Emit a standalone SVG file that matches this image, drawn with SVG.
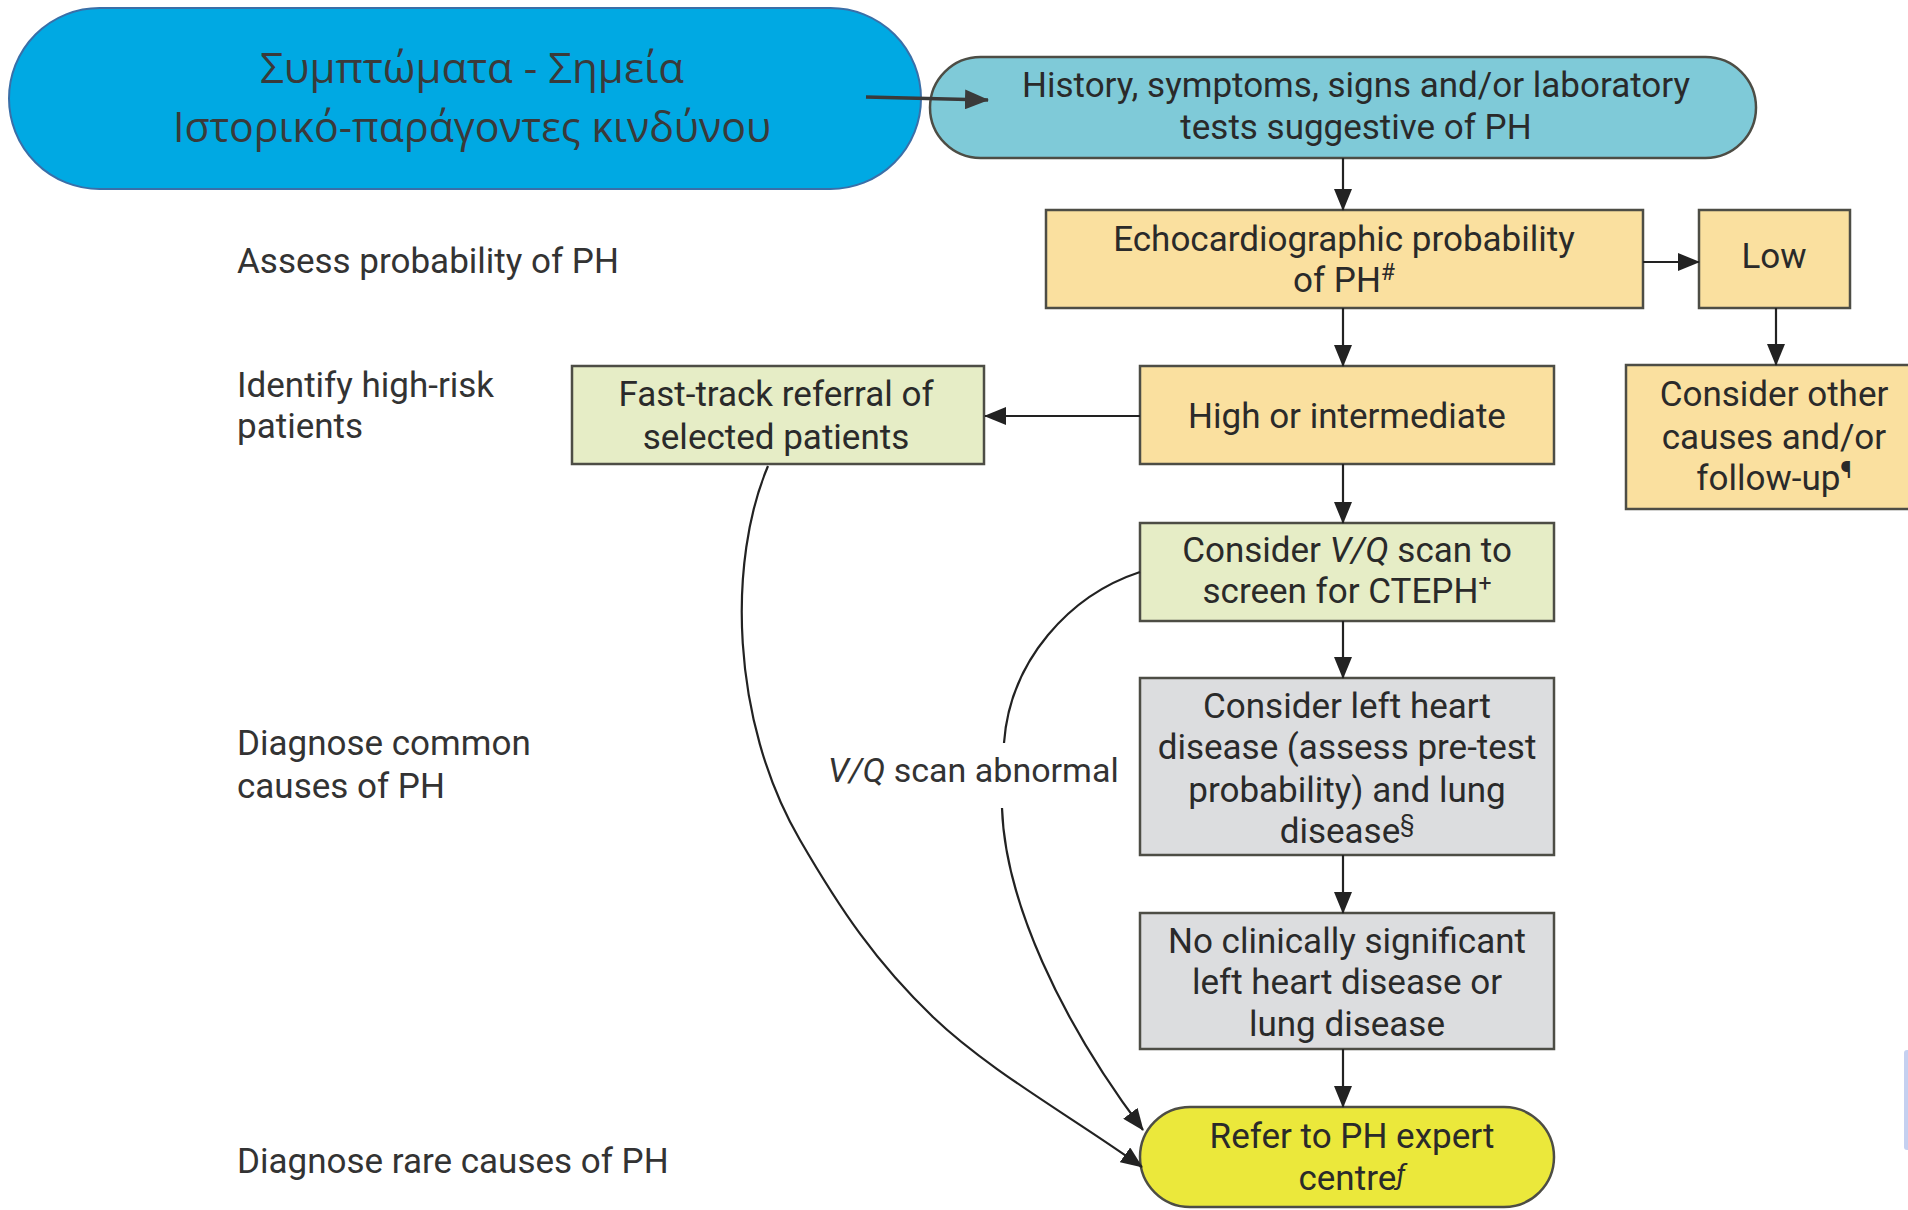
<svg xmlns="http://www.w3.org/2000/svg" width="1908" height="1210" viewBox="0 0 1908 1210">
<defs>
<style>
.t{font-family:Roboto,"Liberation Sans",sans-serif;font-size:35px;fill:#2a2a2a;text-anchor:middle}
.lab{font-family:Roboto,"Liberation Sans",sans-serif;font-size:35px;fill:#333;text-anchor:start}
.vql{font-family:Roboto,"Liberation Sans",sans-serif;font-size:34px;fill:#333;text-anchor:start}
.gr{font-family:"Open Sans","Noto Sans",sans-serif;font-size:42px;fill:#3a3a3a;text-anchor:middle}
.box{stroke:#4d4d45;stroke-width:2.5}
.org{fill:#fae09f}
.grn{fill:#e6edc6}
.gry{fill:#dcdddf}
.con{fill:none;stroke:#222;stroke-width:2.2}
.sup{font-size:23px}
</style>
<marker id="ah" markerWidth="22" markerHeight="18" refX="21" refY="9" orient="auto" markerUnits="userSpaceOnUse"><path d="M0,0 L22,9 L0,18 Z" fill="#222"/></marker>
<marker id="ah2" markerWidth="24" markerHeight="20" refX="23" refY="10" orient="auto" markerUnits="userSpaceOnUse"><path d="M0,0 L24,10 L0,20 Z" fill="#3a3a3a"/></marker>
</defs>
<rect x="0" y="0" width="1908" height="1210" fill="#ffffff"/>

<g id="labels">
<text class="lab" x="237" y="273">Assess probability of PH</text>
<text class="lab" x="237" y="397">Identify high-risk</text>
<text class="lab" x="237" y="438">patients</text>
<text class="lab" x="237" y="755">Diagnose common</text>
<text class="lab" x="237" y="798">causes of PH</text>
<text class="lab" x="237" y="1173">Diagnose rare causes of PH</text>
</g>

<g id="symptoms">
<rect x="9" y="8" width="912" height="181" rx="90.5" fill="#00a9e3" stroke="#3a6fa8" stroke-width="2"/>
<text class="gr" x="472" y="83" textLength="424" lengthAdjust="spacingAndGlyphs">Συμπτώματα - Σημεία</text>
<text class="gr" x="472" y="142" textLength="598" lengthAdjust="spacingAndGlyphs">Ιστορικό-παράγοντες κινδύνου</text>
</g>

<g id="history">
<rect x="930" y="57" width="826" height="101" rx="50.5" fill="#7fcad8" class="box" stroke="#333"/>
<text class="t" x="1356" y="97">History, symptoms, signs and/or laboratory</text>
<text class="t" x="1356" y="139">tests suggestive of PH</text>
</g>

<g id="echo">
<rect x="1046" y="210" width="597" height="98" class="box org"/>
<text class="t" x="1344" y="251">Echocardiographic probability</text>
<text class="t" x="1344" y="292">of PH<tspan class="sup" dy="-12">#</tspan></text>
</g>

<g id="low">
<rect x="1699" y="210" width="151" height="98" class="box org"/>
<text class="t" x="1774" y="268">Low</text>
</g>

<g id="other">
<rect x="1626" y="365" width="296" height="144" class="box org"/>
<text class="t" x="1774" y="406">Consider other</text>
<text class="t" x="1774" y="449">causes and/or</text>
<text class="t" x="1774" y="490">follow-up<tspan class="sup" dy="-12">¶</tspan></text>
</g>

<g id="high">
<rect x="1140" y="366" width="414" height="98" class="box org"/>
<text class="t" x="1347" y="428">High or intermediate</text>
</g>

<g id="fasttrack">
<rect x="572" y="366" width="412" height="98" class="box grn"/>
<text class="t" x="776" y="406">Fast-track referral of</text>
<text class="t" x="776" y="449">selected patients</text>
</g>

<g id="vq">
<rect x="1140" y="523" width="414" height="98" class="box grn"/>
<text class="t" x="1347" y="562">Consider <tspan font-style="italic">V/Q</tspan> scan to</text>
<text class="t" x="1347" y="603">screen for CTEPH<tspan class="sup" dy="-12">+</tspan></text>
</g>

<g id="lhd">
<rect x="1140" y="678" width="414" height="177" class="box gry"/>
<text class="t" x="1347" y="718">Consider left heart</text>
<text class="t" x="1347" y="759">disease (assess pre-test</text>
<text class="t" x="1347" y="802">probability) and lung</text>
<text class="t" x="1347" y="843">disease<tspan class="sup" dy="-12">§</tspan></text>
</g>

<g id="noclin">
<rect x="1140" y="913" width="414" height="136" class="box gry"/>
<text class="t" x="1347" y="953">No clinically significant</text>
<text class="t" x="1347" y="994">left heart disease or</text>
<text class="t" x="1347" y="1036">lung disease</text>
</g>

<g id="refer">
<rect x="1140" y="1107" width="414" height="100" rx="50" fill="#ebe83b" class="box" stroke="#333"/>
<text class="t" x="1352" y="1148">Refer to PH expert</text>
<text class="t" x="1352" y="1190">centre<tspan font-style="italic" font-size="28" dy="-6">ƒ</tspan></text>
</g>

<g id="connectors">
<path d="M866,97 L988,100" fill="none" stroke="#3a3a3a" stroke-width="3.5" marker-end="url(#ah2)"/>
<path class="con" d="M1343,158 L1343,210" marker-end="url(#ah)"/>
<path class="con" d="M1643,262 L1699,262" marker-end="url(#ah)"/>
<path class="con" d="M1776,308 L1776,365" marker-end="url(#ah)"/>
<path class="con" d="M1343,308 L1343,366" marker-end="url(#ah)"/>
<path class="con" d="M1140,416 L985,416" marker-end="url(#ah)"/>
<path class="con" d="M1343,464 L1343,523" marker-end="url(#ah)"/>
<path class="con" d="M1343,621 L1343,678" marker-end="url(#ah)"/>
<path class="con" d="M1343,855 L1343,913" marker-end="url(#ah)"/>
<path class="con" d="M1343,1049 L1343,1107" marker-end="url(#ah)"/>
<path class="con" d="M768,466 C728,560 730,720 800,840 C840,909 876,962.5 933,1017 C990,1071.5 1072.3,1117 1142,1167" marker-end="url(#ah)"/>
<path class="con" d="M1140,572 C1070,595 1010,660 1004,743"/>
<path class="con" d="M1002,808 C1005,900 1060,1020 1143,1130" marker-end="url(#ah)"/>
<text class="vql" x="828" y="782"><tspan font-style="italic">V/Q</tspan> scan abnormal</text>
</g>

<rect x="1904" y="1050" width="8" height="100" rx="3" fill="#c5d0f0"/>
</svg>
